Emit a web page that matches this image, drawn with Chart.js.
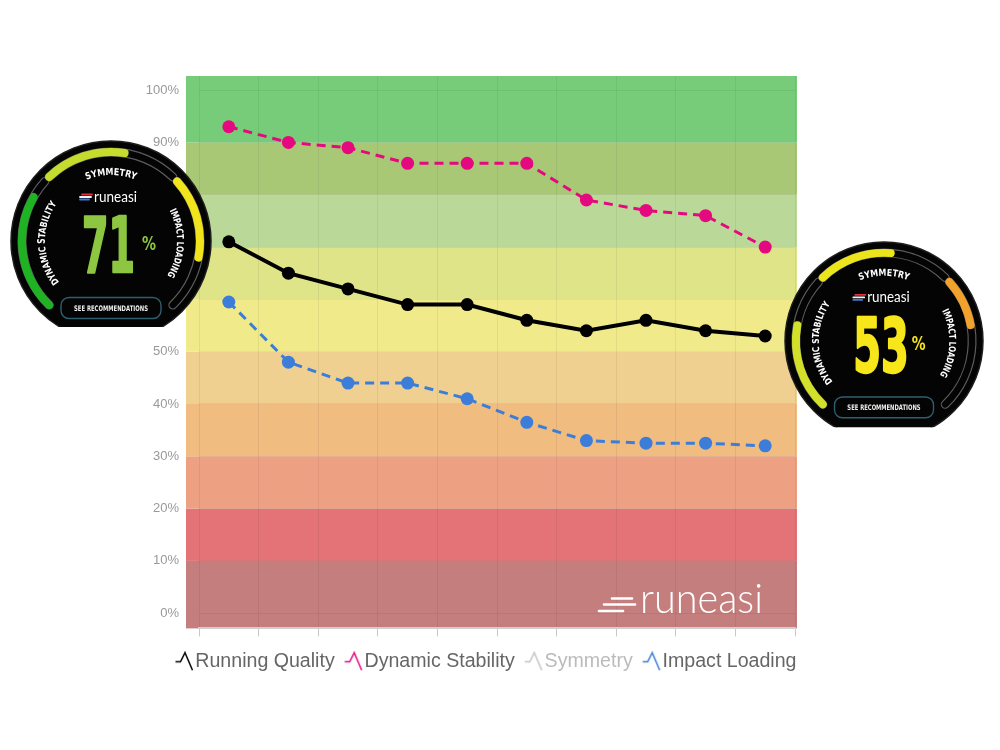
<!DOCTYPE html>
<html>
<head>
<meta charset="utf-8">
<script src="https://cdn.jsdelivr.net/npm/chart.js@4.4.1/dist/chart.umd.min.js"></script>
<style>
  html, body { margin: 0; padding: 0; background: #fff; }
  #wrap { position: relative; width: 1000px; height: 750px; overflow: hidden; }
  #chart { position: absolute; left: 0; top: 0; }
  #overlay { position: absolute; left: 0; top: 0; pointer-events: none; }
</style>
</head>
<body>
<div id="wrap">
  <canvas id="chart" width="1000" height="750"></canvas>
  <svg id="overlay" xmlns="http://www.w3.org/2000/svg" width="1000" height="750" viewBox="0 0 1000 750"></svg>
</div>
<script>
const runs = ['Run 1', 'Run 2', 'Run 3', 'Run 4', 'Run 5', 'Run 6', 'Run 7', 'Run 8', 'Run 9', 'Run 10'];
const runningQuality = [71, 65, 62, 59, 59, 56, 54, 56, 54, 53];
const dynamicStability = [93, 90, 89, 86, 86, 86, 79, 77, 76, 70];
const symmetry = [];
const impactLoading = [59.5, 48, 44, 44, 41, 36.5, 33, 32.5, 32.5, 32];
const yTicks = [0, 10, 20, 30, 40, 50, 60, 70, 80, 90, 100];
// score zones, bottom (0-10%) to top (90-100%)
const bandColors = ['#c47e7e', '#e47378', '#eda082', '#f0bc80', '#f0d091',
                    '#f0ea8a', '#dee487', '#bad998', '#a8c876', '#76cc78'];

// the two score cards: first and last run
const gaugeScores = [runningQuality[0], runningQuality[runningQuality.length - 1]];
const gaugeDynamic = [0.86, 0.64];
const gaugeSymmetry = [0.60, 0.55];
const gaugeImpact = [0.60, 0.36];

Chart.defaults.font.family = "'Liberation Sans', Arial, sans-serif";

function legendIcon(color) {
    const c = document.createElement('canvas');
    c.width = 22; c.height = 20;
    const g = c.getContext('2d');
    g.strokeStyle = color;
    g.lineWidth = 1.5;
    g.beginPath();
    g.moveTo(3.5, 10.5); g.lineTo(8.5, 10.5); g.lineTo(13, 1.5); g.lineTo(20.5, 19);
    g.stroke();
    return c;
}

const bandPlugin = {
    id: 'bands',
    beforeDraw(chart) {
        const {ctx, chartArea: a, scales: {y}} = chart;
        const left = a.left - 13, right = a.right + 2;
        ctx.save();
        bandColors.forEach((col, i) => {
            const top = i === bandColors.length - 1 ? a.top : y.getPixelForValue(yTicks[i + 1]);
            const bottom = i === 0 ? a.bottom : y.getPixelForValue(yTicks[i]);
            ctx.fillStyle = col;
            ctx.fillRect(left, top, right - left, bottom - top);
        });
        ctx.restore();
    }
};

new Chart(document.getElementById('chart').getContext('2d'), {
    type: 'line',
    data: {
        labels: runs,
        datasets: [
            {
                label: 'Running Quality',
                data: runningQuality,
                borderColor: '#000',
                backgroundColor: '#000',
                borderWidth: 4,
                pointRadius: 6.5,
                pointBorderWidth: 0,
                tension: 0
            },
            {
                label: 'Dynamic Stability',
                data: dynamicStability,
                borderColor: '#e5097f',
                backgroundColor: '#e5097f',
                borderWidth: 3,
                borderDash: [9, 6],
                pointRadius: 6.5,
                pointBorderWidth: 0,
                tension: 0
            },
            {
                label: 'Symmetry',
                data: symmetry,
                borderColor: '#c4c4c4',
                backgroundColor: '#c4c4c4',
                hidden: true
            },
            {
                label: 'Impact Loading',
                data: impactLoading,
                borderColor: '#3b7dd8',
                backgroundColor: '#3b7dd8',
                borderWidth: 3,
                borderDash: [9, 6],
                pointRadius: 6.5,
                pointBorderWidth: 0,
                tension: 0
            }
        ]
    },
    options: {
        responsive: false,
        animation: false,
        devicePixelRatio: 1,
        layout: { padding: { left: 143, right: 166, top: 76, bottom: 69 } },
        plugins: {
            tooltip: { enabled: false },
            legend: {
                position: 'bottom',
                labels: {
                    usePointStyle: true,
                    pointStyleWidth: 5,
                    padding: 15,
                    color: '#666',
                    font: { size: 19.6 },
                    generateLabels(chart) {
                        const items = Chart.defaults.plugins.legend.labels.generateLabels(chart);
                        items.forEach(item => {
                            const ds = chart.data.datasets[item.datasetIndex];
                            const off = !chart.isDatasetVisible(item.datasetIndex);
                            item.pointStyle = legendIcon(off ? '#c4c4c4' : ds.borderColor);
                            item.fontColor = off ? '#bbb' : '#666';
                            item.hidden = false;
                        });
                        return items;
                    }
                }
            }
        },
        scales: {
            x: {
                offset: true,
                grid: { offset: true, color: 'rgba(0,0,0,0.06)', tickLength: 8, tickColor: '#c8c8c8' },
                border: { display: true, color: '#cfcfcf', width: 2 },
                ticks: { display: false },
                afterFit(scale) { scale.height = 8; }
            },
            y: {
                min: -2.9,
                max: 102.7,
                afterBuildTicks(scale) { scale.ticks = yTicks.map(v => ({ value: v })); },
                afterFit(scale) { scale.width = 56; },
                grid: { color: 'rgba(0,0,0,0.06)', drawTicks: false },
                border: { display: false },
                ticks: {
                    padding: 20,
                    color: '#999',
                    font: { size: 13 },
                    callback: v => v + '%'
                }
            },
            // empty strip on the right, keeps the legend row wide enough
            side: {
                position: 'right',
                grid: { display: false },
                border: { display: false },
                ticks: { display: false },
                afterFit(scale) { scale.width = 39; }
            }
        }
    },
    plugins: [bandPlugin]
});

// score card overlays (app screenshots in the original)
const arcSpans = [[134, 222], [226, 314], [318, 406]];
const arcNames = ['DYNAMIC STABILITY', 'SYMMETRY', 'IMPACT LOADING'];
const nameLengths = [84, 50, 68];
const narrow = "'Liberation Sans Narrow','DejaVu Sans Condensed','Liberation Sans',sans-serif";

function polar(r, deg) {
    const a = deg * Math.PI / 180;
    return [(r * Math.cos(a)).toFixed(2), (r * Math.sin(a)).toFixed(2)];
}
function arc(r, a0, a1) {
    const [x0, y0] = polar(r, a0), [x1, y1] = polar(r, a1);
    return `M${x0} ${y0} A${r} ${r} 0 ${a1 - a0 > 180 ? 1 : 0} 1 ${x1} ${y1}`;
}

function gauge(id, cx, cy, r, cut, score, fills, colors, scoreColor, scoreX, scoreW, pctX) {
    let out = `<g transform="translate(${cx},${cy}) scale(${r / 100})">`;
    out += `<defs><clipPath id="${id}c"><rect x="-106" y="-106" width="212" height="${106 + cut}"/></clipPath>`;
    arcSpans.forEach(([a0, a1], i) => { out += `<path id="${id}t${i}" d="${arc(66, a0, a1)}"/>`; });
    out += `</defs><g clip-path="url(#${id}c)">`;
    out += `<circle r="100" fill="#040404" stroke="#1e1e1e" stroke-width="1.5"/>`;
    arcSpans.forEach(([a0, a1], i) => {
        const d = arc(89, a0, a1);
        out += `<path d="${d}" fill="none" stroke="#5c5c5c" stroke-width="9" stroke-linecap="round"/>`;
        out += `<path d="${d}" fill="none" stroke="#040404" stroke-width="6.6" stroke-linecap="round"/>`;
        out += `<path d="${arc(89, a0, a0 + fills[i] * (a1 - a0))}" fill="none" stroke="${colors[i]}" stroke-width="8" stroke-linecap="round"/>`;
        out += `<text font-family="${narrow}" font-weight="bold" font-size="9.6" fill="#fff">` +
               `<textPath href="#${id}t${i}" startOffset="50%" text-anchor="middle" textLength="${nameLengths[i]}" lengthAdjust="spacingAndGlyphs">${arcNames[i]}</textPath></text>`;
    });
    // brand
    out += `<g stroke-width="1.8" stroke-linecap="round">` +
           `<line x1="-29" y1="-46.5" x2="-19" y2="-46.5" stroke="#e0303c"/>` +
           `<line x1="-31" y1="-44" x2="-20" y2="-44" stroke="#f2f2f2"/>` +
           `<line x1="-31" y1="-41.5" x2="-22" y2="-41.5" stroke="#3a7ad8"/></g>`;
    out += `<text x="-17" y="-39" font-family="Lato, sans-serif" font-size="14.5" fill="#fff" textLength="43" lengthAdjust="spacingAndGlyphs">runeasi</text>`;
    // score
    out += `<text x="${scoreX}" y="31" font-family="${narrow}" font-weight="bold" font-size="76" fill="${scoreColor}" stroke="${scoreColor}" stroke-width="2.4" stroke-linejoin="round" textLength="${scoreW}" lengthAdjust="spacingAndGlyphs">${score}</text>`;
    out += `<text x="${pctX}" y="9" font-family="${narrow}" font-weight="bold" font-size="20" fill="${scoreColor}" textLength="14" lengthAdjust="spacingAndGlyphs">%</text>`;
    // button
    out += `<rect x="-50" y="56.5" width="100" height="21" rx="8" fill="none" stroke="#2e5f6e" stroke-width="1.4"/>`;
    out += `<text x="0" y="70" text-anchor="middle" font-family="${narrow}" font-weight="bold" font-size="7.6" fill="#eee" textLength="74" lengthAdjust="spacingAndGlyphs">SEE RECOMMENDATIONS</text>`;
    out += `</g></g>`;
    return out;
}

let svg = '';
// watermark
svg += `<g stroke="#fff" stroke-width="2.6" stroke-linecap="round">` +
       `<line x1="612" y1="598.5" x2="632" y2="598.5"/>` +
       `<line x1="604" y1="604.5" x2="635" y2="604.5"/>` +
       `<line x1="599" y1="611" x2="623" y2="611"/></g>`;
svg += `<text x="640" y="613" font-family="Lato, sans-serif" font-weight="300" font-size="41" fill="#fff" textLength="123" lengthAdjust="spacingAndGlyphs">runeasi</text>`;
svg += gauge('ga', 111, 241, 100, 86, gaugeScores[0],
    [gaugeDynamic[0], gaugeSymmetry[0], gaugeImpact[0]],
    ['#1fb324', '#c6dc2c', '#f2e41c'], '#8dc641', -29, 53, 31);
svg += gauge('gb', 884, 341, 99, 87, gaugeScores[1],
    [gaugeDynamic[1], gaugeSymmetry[1], gaugeImpact[1]],
    ['#d2e02a', '#ece51c', '#f0a22c'], '#f7e619', -31, 56, 28);
document.getElementById('overlay').innerHTML = svg;
</script>
</body>
</html>
